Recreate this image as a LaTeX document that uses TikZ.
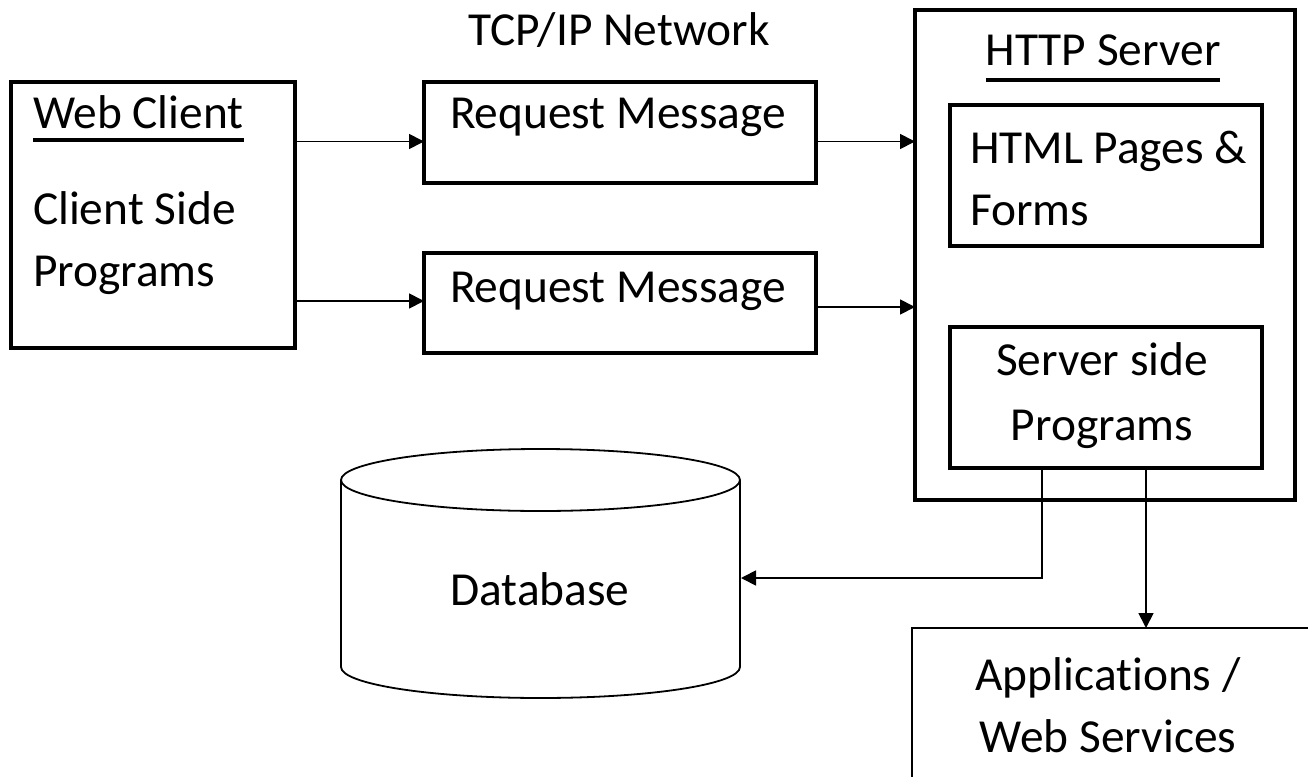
\documentclass[tikz,border=0pt]{standalone}
\usepackage{fontspec}
\setmainfont{Carlito}[Ligatures=NoCommon]
\usepackage{tikz}
\usetikzlibrary{arrows.meta, calc, positioning}

\begin{document}
\begin{tikzpicture} [x=0.5pt, y=-0.5pt,
	nodes={font=\fontsize{23.7}{31}\selectfont, inner sep=0pt, outer sep=0pt},
	box/.style={draw, line width=1.6pt, anchor=north west},
	thinline/.style={line width=0.9pt},
	conn/.style={thinline, -{Triangle[length=7.5pt, width=7.5pt]}}]
	
	\useasboundingbox[fill=white] (0,0) rectangle (1308,777);
	
	% boxes
	\node[box, minimum width=142pt, minimum height=133pt] (client) at (11,82) {};
	\node[box, minimum width=196pt, minimum height=50.5pt] (req1) at (424,82) {};
	\node[box, minimum width=196pt, minimum height=50pt] (req2) at (424,253) {};
	\node[box, minimum width=190pt, minimum height=245pt] (server) at (915,10) {};
	\node[box, minimum width=156pt, minimum height=70.5pt] (html) at (950,105) {};
	\node[box, minimum width=156pt, minimum height=70.5pt] (prog) at (950,327) {};
	
	% texts (base of a two-line node = its last line)
	\node[anchor=base] (net) at (619,45) {TCP/IP Network};
	\node[anchor=base west] (wc) at (33,128) {Web Client};
	\node[anchor=base west, align=left] (cside) at (33,286) {Client Side\\Programs};
	\node[anchor=base] (req1txt) at (618,128) {Request Message};
	\node[anchor=base] (req2txt) at (618,302) {Request Message};
	\node[anchor=base] (srv) at (1103,65) {HTTP Server};
	\node[anchor=base west, align=left] (htmltxt) at (970,225) {HTML Pages \&\\Forms};
	\node[anchor=base, align=center, font=\fontsize{23.7}{32.5}\selectfont] (progtxt) at (1102,440) {Server side\\Programs};
	\node[anchor=base] (db) at (540,605) {Database};
	\node[anchor=base, align=center] (apps) at (1108,752) {Applications /\\Web Services};
	
	% underlines
	\draw[line width=1.6pt] ($(wc.base west)+(0,12)$) -- ($(wc.base east)+(0,12)$);
	\draw[line width=1.6pt] ($(srv.base west)+(0,15)$) -- ($(srv.base east)+(0,15)$);
	
	% database
	\draw[thinline] (341,480) -- (341,667) arc[start angle=180, end angle=360, x radius=99.75pt, y radius=15.5pt] -- (740,480);
	\draw[thinline] (540.5,480) ellipse[x radius=99.75pt, y radius=15.5pt];
	\coordinate (dbin) at (741,578);
	
	% applications box, cut off at the page edge
	\coordinate (appcorner) at (912,628);
	\draw[thinline] (912,777) -- (appcorner) -- (1308,628);
	
	% connectors
	\draw[conn] ($(client.east |- req1.west)+(0,9)$) -- ($(req1.west)+(0,9)$);
	\draw[conn] ($(client.east |- req2.west)+(0,-2)$) -- ($(req2.west)+(0,-2)$);
	\draw[conn] ($(req1.east)+(0,9)$) -- ($(server.west |- req1.east)+(0,9)$);
	\draw[conn] ($(req2.east)+(0,4)$) -- ($(server.west |- req2.east)+(0,4)$);
	\coordinate (progL) at ($(prog.south)+(-64,0)$);
	\coordinate (progR) at ($(prog.south)+(40,0)$);
	\draw[conn] (progL) |- (dbin);
	\draw[conn] (progR) -- (progR |- appcorner);
	
\end{tikzpicture}
\end{document}
